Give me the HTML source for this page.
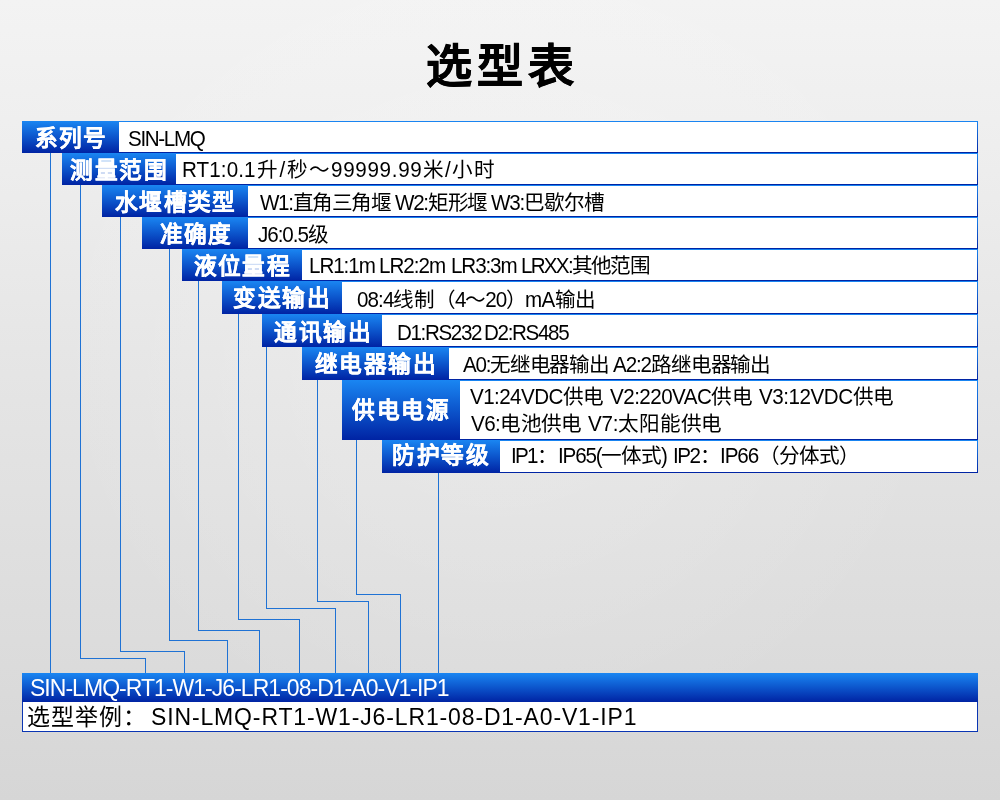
<!DOCTYPE html>
<html lang="zh-CN">
<head>
<meta charset="utf-8">
<title>选型表</title>
<style>
html,body{margin:0;padding:0;}
body{width:1000px;height:800px;overflow:hidden;position:relative;font-family:"Liberation Sans",sans-serif;
background:linear-gradient(to bottom,#f3f3f3 0%,#efefef 15%,#e4e4e4 50%,#dcdcdc 80%,#d6d6d6 100%);}
.vg{position:absolute;left:0;top:0;width:1000px;height:800px;background:radial-gradient(ellipse at 50% 42%,rgba(255,255,255,.25) 0%,rgba(255,255,255,0) 65%);}
h1{will-change:transform;position:absolute;left:0;top:32px;width:1000px;margin:0;text-align:center;font-size:46px;line-height:68px;font-weight:bold;color:#000;letter-spacing:5px;text-indent:4px;-webkit-text-stroke:0.5px #000;}
.row{position:absolute;background:linear-gradient(to bottom,#1a86f2 0%,#0c55cc 50%,#0023a3 100%);}
.val{position:absolute;top:1px;right:1px;bottom:1px;background:#fff;}
.ln{position:absolute;background:#1f72d4;}
.bar{position:absolute;left:22px;top:673px;width:956px;height:29px;background:linear-gradient(to bottom,#1a86f2 0%,#0c55cc 50%,#0023a3 100%);}
.ex{position:absolute;left:22px;top:702px;width:954px;height:29px;background:#fff;border:1px solid #0a35b3;border-top:none;}
.t{will-change:transform;position:absolute;white-space:nowrap;line-height:40px;font-size:20.6px;color:#000;}
.t .a{display:inline-block;transform:scaleY(1.07);transform-origin:0 27.14px;}
.lab{will-change:transform;position:absolute;white-space:nowrap;line-height:40px;font-size:22.7px;font-weight:bold;color:#fff;-webkit-text-stroke:0.2px;}
.t.b{font-size:23px;color:#fff;}
.t.b .a{transform-origin:0 27.96px;-webkit-text-stroke:0;}
.t.e{font-size:23px;}
.t.e .a{transform-origin:0 27.96px;}
</style>
</head>
<body>
<div class="vg"></div>
<h1>选型表</h1>
<div class="row" style="left:22px;top:121px;width:956px;height:32px;"><div class="val" style="left:97px;"></div></div>
<div class="lab" style="left:35.06px;top:118px;letter-spacing:1.17px;">系列号</div>
<div class="t" style="left:127.9px;top:119px;letter-spacing:-1.35px;"><span class="a">SIN-LMQ</span></div>
<div class="row" style="left:62px;top:153px;width:916px;height:32px;"><div class="val" style="left:114px;"></div></div>
<div class="lab" style="left:70.2px;top:150px;letter-spacing:1.54px;">测量范围</div>
<div class="t" style="left:182.03px;top:150px;letter-spacing:0.1px;"><span class="a">RT1:0.1</span></div>
<div class="t" style="left:256.76px;top:150px;letter-spacing:1.48px;">升<span class="a">/</span>秒～</div>
<div class="t" style="left:331.1px;top:150px;letter-spacing:0.7px;"><span class="a">99999.99</span></div>
<div class="t" style="left:423.21px;top:150px;letter-spacing:0.94px;">米<span class="a">/</span>小时</div>
<div class="row" style="left:102px;top:185px;width:876px;height:32px;"><div class="val" style="left:146px;"></div></div>
<div class="lab" style="left:115.0px;top:182px;letter-spacing:1.31px;">水堰槽类型</div>
<div class="t" style="left:259.7px;top:183px;letter-spacing:-1.36px;"><span class="a">W1:</span>直角三角堰</div>
<div class="t" style="left:395.1px;top:183px;letter-spacing:-1.28px;"><span class="a">W2:</span>矩形堰</div>
<div class="t" style="left:491.3px;top:183px;letter-spacing:-1.15px;"><span class="a">W3:</span>巴歇尔槽</div>
<div class="row" style="left:142px;top:217px;width:836px;height:32px;"><div class="val" style="left:106px;"></div></div>
<div class="lab" style="left:159.5px;top:214px;letter-spacing:1.18px;">准确度</div>
<div class="t" style="left:258.0px;top:215px;letter-spacing:-1.04px;"><span class="a">J6:0.5</span>级</div>
<div class="row" style="left:182px;top:249px;width:796px;height:32px;"><div class="val" style="left:120px;"></div></div>
<div class="lab" style="left:194.0px;top:246px;letter-spacing:1.21px;">液位量程</div>
<div class="t" style="left:309.13px;top:246px;letter-spacing:-1.06px;"><span class="a">LR1:1m</span></div>
<div class="t" style="left:378.93px;top:246px;letter-spacing:-0.99px;"><span class="a">LR2:2m</span></div>
<div class="t" style="left:451.13px;top:246px;letter-spacing:-1.1px;"><span class="a">LR3:3m</span></div>
<div class="t" style="left:521.03px;top:246px;letter-spacing:-1.73px;"><span class="a">LRXX:</span>其他范围</div>
<div class="row" style="left:222px;top:281px;width:756px;height:33px;"><div class="val" style="left:120px;"></div></div>
<div class="lab" style="left:233.23px;top:278px;letter-spacing:1.59px;">变送输出</div>
<div class="t" style="left:356.91px;top:280px;letter-spacing:-0.9px;"><span class="a">08:4</span>线制</div>
<div class="t" style="left:434.9px;top:280px;letter-spacing:-1.07px;">（<span class="a">4</span>～<span class="a">20</span>）</div>
<div class="t" style="left:524.9px;top:280px;letter-spacing:-0.69px;"><span class="a">mA</span>输出</div>
<div class="row" style="left:262px;top:314px;width:716px;height:33px;"><div class="val" style="left:120px;"></div></div>
<div class="lab" style="left:274.0px;top:312px;letter-spacing:1.6px;">通讯输出</div>
<div class="t" style="left:397.13px;top:313px;letter-spacing:-1.37px;"><span class="a">D1:RS232</span></div>
<div class="t" style="left:483.93px;top:313px;letter-spacing:-1.34px;"><span class="a">D2:RS485</span></div>
<div class="row" style="left:302px;top:347px;width:676px;height:33px;"><div class="val" style="left:147px;"></div></div>
<div class="lab" style="left:315.2px;top:344px;letter-spacing:1.45px;">继电器输出</div>
<div class="t" style="left:462.7px;top:345px;letter-spacing:-1.26px;"><span class="a">A0:</span>无继电器输出</div>
<div class="t" style="left:612.9px;top:345px;letter-spacing:-1.11px;"><span class="a">A2:2</span>路继电器输出</div>
<div class="row" style="left:342px;top:380px;width:636px;height:60px;"><div class="val" style="left:118px;"></div></div>
<div class="lab" style="left:352.03px;top:390px;letter-spacing:1.52px;">供电电源</div>
<div class="t" style="left:469.9px;top:377px;letter-spacing:-0.57px;"><span class="a">V1:24VDC</span>供电</div>
<div class="t" style="left:610.1px;top:377px;letter-spacing:-0.53px;"><span class="a">V2:220VAC</span>供电</div>
<div class="t" style="left:758.6px;top:377px;letter-spacing:-0.46px;"><span class="a">V3:12VDC</span>供电</div>
<div class="t" style="left:470.9px;top:404px;letter-spacing:-0.58px;"><span class="a">V6:</span>电池供电</div>
<div class="t" style="left:587.6px;top:404px;letter-spacing:-0.23px;"><span class="a">V7:</span>太阳能供电</div>
<div class="row" style="left:382px;top:440px;width:596px;height:33px;"><div class="val" style="left:118px;"></div></div>
<div class="lab" style="left:392.2px;top:435px;letter-spacing:1.59px;">防护等级</div>
<div class="t" style="left:510.7px;top:436px;letter-spacing:-1.75px;"><span class="a">IP1</span>：</div>
<div class="t" style="left:558.0px;top:436px;letter-spacing:-1.15px;"><span class="a">IP65(</span>一体式<span class="a">)</span></div>
<div class="t" style="left:672.5px;top:436px;letter-spacing:-1.44px;"><span class="a">IP2</span>：</div>
<div class="t" style="left:720.0px;top:436px;letter-spacing:-1.07px;"><span class="a">IP66</span></div>
<div class="t" style="left:759.2px;top:436px;letter-spacing:-1.08px;">（分体式）</div>
<div class="ln" style="left:50px;top:153px;width:1px;height:520px;"></div>
<div class="ln" style="left:80px;top:185px;width:1px;height:474px;"></div><div class="ln" style="left:80px;top:658px;width:66px;height:1px;"></div><div class="ln" style="left:145px;top:658px;width:1px;height:15px;"></div>
<div class="ln" style="left:120px;top:217px;width:1px;height:435px;"></div><div class="ln" style="left:120px;top:651px;width:65px;height:1px;"></div><div class="ln" style="left:184px;top:651px;width:1px;height:22px;"></div>
<div class="ln" style="left:169px;top:249px;width:1px;height:392px;"></div><div class="ln" style="left:169px;top:640px;width:59px;height:1px;"></div><div class="ln" style="left:227px;top:640px;width:1px;height:33px;"></div>
<div class="ln" style="left:198px;top:281px;width:1px;height:350px;"></div><div class="ln" style="left:198px;top:630px;width:62px;height:1px;"></div><div class="ln" style="left:259px;top:630px;width:1px;height:43px;"></div>
<div class="ln" style="left:238px;top:314px;width:1px;height:306px;"></div><div class="ln" style="left:238px;top:619px;width:62px;height:1px;"></div><div class="ln" style="left:299px;top:619px;width:1px;height:54px;"></div>
<div class="ln" style="left:266px;top:347px;width:1px;height:262px;"></div><div class="ln" style="left:266px;top:608px;width:70px;height:1px;"></div><div class="ln" style="left:335px;top:608px;width:1px;height:65px;"></div>
<div class="ln" style="left:317px;top:380px;width:1px;height:222px;"></div><div class="ln" style="left:317px;top:601px;width:52px;height:1px;"></div><div class="ln" style="left:368px;top:601px;width:1px;height:72px;"></div>
<div class="ln" style="left:356px;top:440px;width:1px;height:155px;"></div><div class="ln" style="left:356px;top:594px;width:45px;height:1px;"></div><div class="ln" style="left:400px;top:594px;width:1px;height:79px;"></div>
<div class="ln" style="left:438px;top:473px;width:1px;height:200px;"></div>
<div class="bar"></div>
<div class="t b" style="left:30.2px;top:668px;letter-spacing:-0.97px;"><span class="a">SIN-LMQ-RT1-W1-J6-LR1-08-D1-A0-V1-IP1</span></div>
<div class="ex"></div>
<div class="t e" style="left:27.3px;top:697px;letter-spacing:1.09px;">选型举例：</div>
<div class="t e" style="left:150.9px;top:697px;letter-spacing:0.86px;"><span class="a">SIN-LMQ-RT1-W1-J6-LR1-08-D1-A0-V1-IP1</span></div>
</body>
</html>
